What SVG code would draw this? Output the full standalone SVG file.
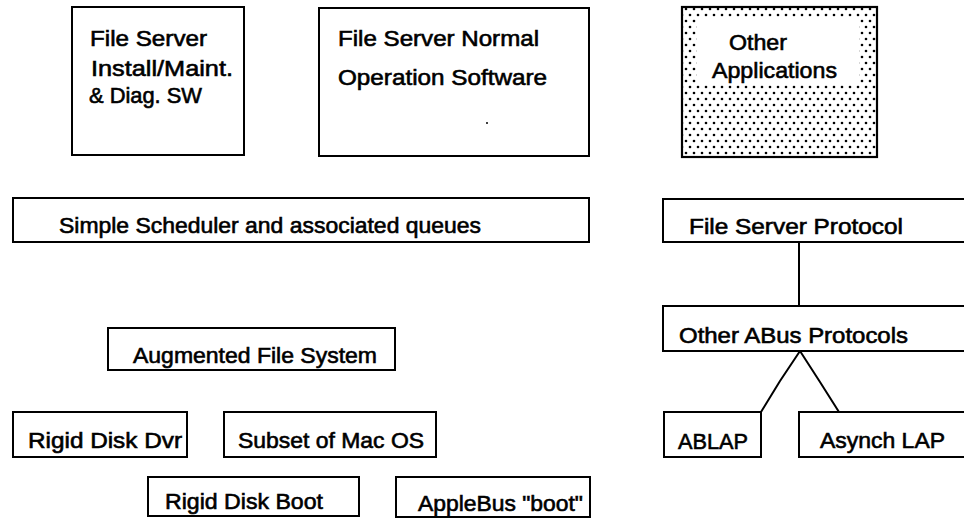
<svg xmlns="http://www.w3.org/2000/svg" width="964" height="518" viewBox="0 0 964 518">
  <style>
    .box { fill: #fff; stroke: #000; stroke-width: 2; }
    .shade { fill: url(#dots); stroke: #000; stroke-width: 2.2; }
    .lbl { font-family: "Liberation Sans", "DejaVu Sans", Arial, sans-serif; font-size: 22px; fill: #000; stroke: #000; stroke-width: 0.6; }
    .wire { fill: none; stroke: #000; stroke-width: 2; }
  </style>
  <defs>
    <pattern id="dots" width="8" height="12" patternUnits="userSpaceOnUse">
      <rect width="8" height="12" fill="#fff"/>
      <circle cx="2" cy="3" r="1.3" fill="#000"/>
      <circle cx="6" cy="9" r="1.3" fill="#000"/>
    </pattern>
  </defs>
  <rect width="964" height="518" fill="#fff"/>

  <!-- connectors -->
  <g id="connectors">
    <line class="wire" x1="799" y1="242" x2="799" y2="306"/>
    <polyline class="wire" points="761,412 780,381 800,351 820,382 839,412"/>
  </g>

  <!-- application layer -->
  <g id="install-sw">
    <rect class="box" x="72" y="7" width="172" height="148"/>
    <text class="lbl" x="90" y="46" textLength="117" lengthAdjust="spacingAndGlyphs">File Server</text>
    <text class="lbl" x="91" y="76" textLength="142" lengthAdjust="spacingAndGlyphs">Install/Maint.</text>
    <text class="lbl" x="89" y="103" textLength="113" lengthAdjust="spacingAndGlyphs">&amp; Diag. SW</text>
  </g>
  <g id="normal-sw">
    <rect class="box" x="319" y="8" width="270" height="148"/>
    <text class="lbl" x="338" y="46" textLength="201" lengthAdjust="spacingAndGlyphs">File Server Normal</text>
    <text class="lbl" x="338" y="85" textLength="209" lengthAdjust="spacingAndGlyphs">Operation Software</text>
    <circle cx="487" cy="123" r="1" fill="#000"/>
  </g>
  <g id="other-apps">
    <rect class="shade" x="682" y="7" width="195" height="150"/>
    <rect x="697" y="18" width="162" height="65" fill="#fff"/>
    <text class="lbl" x="729" y="50" textLength="58" lengthAdjust="spacingAndGlyphs">Other</text>
    <text class="lbl" x="712" y="78" textLength="125" lengthAdjust="spacingAndGlyphs">Applications</text>
  </g>

  <!-- scheduler and protocol stack -->
  <g id="scheduler">
    <rect class="box" x="13" y="198" width="576" height="44"/>
    <text class="lbl" x="59" y="233" textLength="422" lengthAdjust="spacingAndGlyphs">Simple Scheduler and associated queues</text>
  </g>
  <g id="fs-protocol">
    <rect class="box" x="663" y="199" width="320" height="43"/>
    <text class="lbl" x="689" y="234" textLength="214" lengthAdjust="spacingAndGlyphs">File Server Protocol</text>
  </g>
  <g id="abus-protocols">
    <rect class="box" x="663" y="306" width="320" height="45"/>
    <text class="lbl" x="679" y="343" textLength="229" lengthAdjust="spacingAndGlyphs">Other ABus Protocols</text>
  </g>
  <g id="ablap">
    <rect class="box" x="664" y="412" width="97" height="45"/>
    <text class="lbl" x="678" y="449" textLength="70" lengthAdjust="spacingAndGlyphs">ABLAP</text>
  </g>
  <g id="asynch-lap">
    <rect class="box" x="799" y="412" width="184" height="45"/>
    <text class="lbl" x="820" y="448" textLength="125" lengthAdjust="spacingAndGlyphs">Asynch LAP</text>
  </g>

  <!-- storage side -->
  <g id="afs">
    <rect class="box" x="108" y="328" width="287" height="42"/>
    <text class="lbl" x="133" y="363" textLength="244" lengthAdjust="spacingAndGlyphs">Augmented File System</text>
  </g>
  <g id="disk-driver">
    <rect class="box" x="13" y="412" width="174" height="45"/>
    <text class="lbl" x="28" y="448" textLength="154" lengthAdjust="spacingAndGlyphs">Rigid Disk Dvr</text>
  </g>
  <g id="mac-os">
    <rect class="box" x="224" y="412" width="212" height="45"/>
    <text class="lbl" x="238" y="448" textLength="186" lengthAdjust="spacingAndGlyphs">Subset of Mac OS</text>
  </g>
  <g id="disk-boot">
    <rect class="box" x="148" y="477" width="211" height="39"/>
    <text class="lbl" x="165" y="509" textLength="158" lengthAdjust="spacingAndGlyphs">Rigid Disk Boot</text>
  </g>
  <g id="applebus-boot">
    <rect class="box" x="396" y="477" width="194" height="40"/>
    <text class="lbl" x="418" y="511" textLength="165" lengthAdjust="spacingAndGlyphs">AppleBus "boot"</text>
  </g>
</svg>
